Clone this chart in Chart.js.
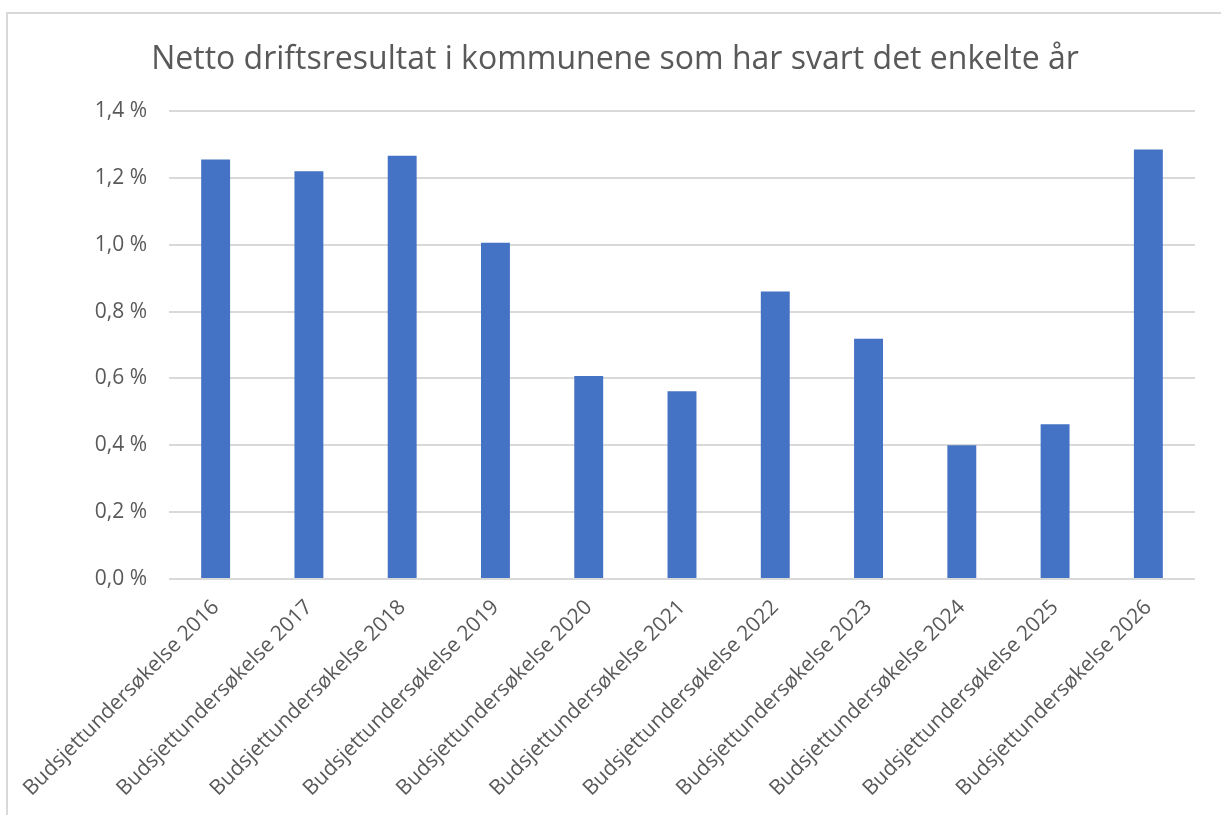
<!DOCTYPE html>
<html>
<head>
<meta charset="utf-8">
<script src="https://cdn.jsdelivr.net/npm/chart.js@4.4.1/dist/chart.umd.min.js"></script>
<style>
  html, body { margin: 0; padding: 0; background: #fff; }
  #frame {
    position: absolute; left: 6px; top: 12px; right: 0; bottom: 0;
    border-left: 2px solid #d9d9d9; border-top: 2px solid #d9d9d9;
  }
  #wrap { position: absolute; left: 0; top: 0; width: 1221px; height: 815px; }
</style>
</head>
<body>
<div id="frame"></div>
<div id="wrap"><canvas id="resultChart"></canvas></div>
<script>
const labels = ['Budsjettundersøkelse 2016', 'Budsjettundersøkelse 2017', 'Budsjettundersøkelse 2018',
    'Budsjettundersøkelse 2019', 'Budsjettundersøkelse 2020', 'Budsjettundersøkelse 2021',
    'Budsjettundersøkelse 2022', 'Budsjettundersøkelse 2023', 'Budsjettundersøkelse 2024',
    'Budsjettundersøkelse 2025', 'Budsjettundersøkelse 2026'];
const nettoResultat = [1.255, 1.22, 1.266, 1.006, 0.607, 0.562, 0.86, 0.719, 0.40, 0.463, 1.285];
const yTicks = [0, 0.2, 0.4, 0.6, 0.8, 1.0, 1.2, 1.4];

const grey = '#595959';
const fontFamily = '"Open Sans", "Noto Sans", sans-serif';

new Chart(document.getElementById('resultChart'), {
    type: 'bar',
    data: {
        labels: labels,
        datasets: [{
            label: 'Netto driftsresultat',
            data: nettoResultat,
            backgroundColor: '#4472c4',
            borderWidth: 0,
            barPercentage: 0.31,
            categoryPercentage: 1
        }]
    },
    options: {
        responsive: true,
        maintainAspectRatio: false,
        animation: false,
        layout: { padding: { left: 35, right: 26, top: 0, bottom: 0 } },
        plugins: {
            legend: { display: false },
            tooltip: { enabled: false },
            title: {
                display: true,
                text: 'Netto driftsresultat i kommunene som har svart det enkelte år',
                color: grey,
                font: { family: fontFamily, size: 32, weight: 'normal' },
                padding: { top: 41, bottom: 31.6 }
            }
        },
        scales: {
            x: {
                grid: { display: false },
                border: { display: false },
                ticks: {
                    autoSkip: false,
                    minRotation: 45,
                    maxRotation: 45,
                    color: grey,
                    padding: 8,
                    font: { family: fontFamily, size: 21 }
                },
                afterFit: (scale) => { scale.height = 815 - 579; }
            },
            y: {
                min: 0,
                max: 1.4,
                afterBuildTicks: (scale) => { scale.ticks = yTicks.map(v => ({ value: v })); },
                grid: { color: '#d9d9d9', lineWidth: 2, drawTicks: false },
                border: { display: false },
                ticks: {
                    color: grey,
                    padding: 22,
                    font: { family: fontFamily, size: 21 },
                    callback: (v) => v.toFixed(1).replace('.', ',') + ' %'
                },
                afterFit: (scale) => { scale.width = 134; }
            }
        }
    }
});
</script>
</body>
</html>
